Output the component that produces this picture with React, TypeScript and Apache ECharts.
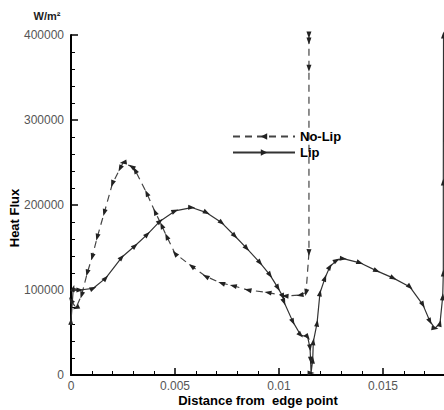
import React, { useEffect, useRef } from "react";
import * as echarts from "echarts";

const noLipX = [0, 0.00024, 0.00051, 0.00078, 0.00102, 0.00126, 0.0016, 0.00199, 0.00236, 0.00251, 0.00292, 0.00308, 0.00364, 0.00404, 0.00436, 0.0046, 0.005, 0.0058, 0.00648, 0.00724, 0.0078, 0.00851, 0.00947, 0.01029, 0.01101, 0.0113, 0.01144, 0.01144, 0.01144, 0.01144];
const noLipY = [88000, 79000, 94000, 120000, 139000, 162000, 191000, 225000, 243000, 250000, 245000, 241000, 214000, 192000, 176000, 163000, 143000, 128000, 116000, 108000, 105000, 100000, 97000, 93000, 94000, 97000, 144000, 361000, 393000, 400000];

const lipX = [0, 0.00011, 0.00043, 0.00107, 0.00167, 0.00244, 0.00308, 0.00367, 0.00428, 0.005, 0.0058, 0.00652, 0.00725, 0.00788, 0.00845, 0.00909, 0.00957, 0.00995, 0.01019, 0.01024, 0.01067, 0.01104, 0.01138, 0.01149, 0.01152, 0.01154, 0.01162, 0.01165, 0.01183, 0.01197, 0.01221, 0.01245, 0.01277, 0.01309, 0.01389, 0.0147, 0.0155, 0.0163, 0.01692, 0.01726, 0.0175, 0.01774, 0.01787, 0.0179, 0.0179, 0.01791];
const lipY = [63000, 102000, 100000, 102000, 114000, 138500, 152000, 165500, 181000, 193000, 197000, 191000, 179000, 163500, 149000, 132000, 117500, 102500, 92000, 86000, 62500, 47000, 44500, 32000, 17500, 2500, 17500, 39000, 61000, 96500, 114000, 127500, 135000, 137000, 132000, 122500, 114000, 103500, 82500, 63000, 55000, 61000, 92000, 120000, 227000, 400000];

const seriesNames = ["No-Lip", "Lip"];
const xTitle = "Distance from  edge point";
const yTitle = "Heat Flux";
const yUnit = "W/m\u00B2";

// direction of arrow markers along the curve (screen-space aspect)
function withRotation(xs: number[], ys: number[], reverse: boolean) {
  const kx = 20800;
  const ky = 85 / 100000;
  return xs.map((x, i) => {
    const a = Math.max(0, i - 1);
    const b = Math.min(xs.length - 1, i + 1);
    let dx = (xs[b] - xs[a]) * kx;
    let dy = (ys[b] - ys[a]) * ky;
    if (reverse) {
      dx = -dx;
      dy = -dy;
    }
    const ang = (Math.atan2(dy, dx) * 180) / Math.PI;
    return { value: [x, ys[i]], symbolRotate: ang - 90 };
  });
}

export default function App() {
  const ref = useRef<HTMLDivElement>(null);
  useEffect(() => {
    document.body.style.margin = "0";
    const chart = echarts.init(ref.current!, null, { renderer: "svg" });
    const font = "Arial, 'Liberation Sans', Helvetica, sans-serif";
    chart.setOption({
      animation: false,
      backgroundColor: "#ffffff",
      textStyle: { fontFamily: font },
      grid: { left: 71, top: 35, bottom: 35, right: 0 },
      legend: {
        orient: "vertical",
        left: 232,
        top: 130,
        padding: 0,
        itemGap: 3,
        itemWidth: 62,
        itemHeight: 8,
        textStyle: { fontSize: 13, fontWeight: "bold", color: "#000", fontFamily: font },
        data: [
          { name: seriesNames[0], symbolRotate: 90 },
          { name: seriesNames[1], symbolRotate: -90 },
        ],
      },
      xAxis: {
        type: "value",
        min: 0,
        max: 0.02,
        interval: 0.005,
        axisLine: { show: true, onZero: false, lineStyle: { color: "#000", width: 2 } },
        axisTick: { show: true, inside: true, length: 7, lineStyle: { color: "#000", width: 1.5 } },
        minorTick: { show: true, splitNumber: 5, length: 4, lineStyle: { color: "#000", width: 1 } },
        splitLine: { show: false },
        axisLabel: { color: "#555", fontSize: 12, margin: 5, fontFamily: font, showMaxLabel: false, formatter: (v: number) => String(v) },
      },
      yAxis: {
        type: "value",
        min: 0,
        max: 400000,
        interval: 100000,
        axisLine: { show: true, onZero: false, lineStyle: { color: "#000", width: 2 } },
        axisTick: { show: true, inside: true, length: 7, lineStyle: { color: "#000", width: 1.5 } },
        minorTick: { show: true, splitNumber: 5, length: 4, lineStyle: { color: "#000", width: 1 } },
        splitLine: { show: false },
        axisLabel: { color: "#555", fontSize: 12, margin: 7, fontFamily: font, formatter: (v: number) => String(v) },
      },
      graphic: [
        {
          type: "text",
          x: 47,
          y: 16,
          style: { text: yUnit, font: "bold 11px " + font, fill: "#222", align: "center", verticalAlign: "middle", textAlign: "center", textVerticalAlign: "middle" },
        },
        {
          type: "text",
          x: 14,
          y: 218,
          rotation: Math.PI / 2,
          style: { text: yTitle, font: "bold 13px " + font, fill: "#000", align: "center", verticalAlign: "middle", textAlign: "center", textVerticalAlign: "middle" },
        },
        {
          type: "text",
          x: 258,
          y: 400,
          style: { text: xTitle, font: "bold 13px " + font, fill: "#000", align: "center", verticalAlign: "middle", textAlign: "center", textVerticalAlign: "middle" },
        },
      ],
      series: [
        {
          name: seriesNames[0],
          type: "line",
          data: withRotation(noLipX, noLipY, true),
          symbol: "triangle",
          symbolSize: [5, 7],
          showAllSymbol: true,
          itemStyle: { color: "#222" },
          lineStyle: { color: "#444", width: 1.2, type: [7, 5] },
        },
        {
          name: seriesNames[1],
          type: "line",
          data: withRotation(lipX, lipY, false),
          symbol: "triangle",
          symbolSize: [5, 7],
          showAllSymbol: true,
          itemStyle: { color: "#222" },
          lineStyle: { color: "#333", width: 1.2, type: "solid" },
        },
      ],
    });
    return () => chart.dispose();
  }, []);
  return (
    <div style={{ width: 444, height: 410, overflow: "hidden", position: "relative" }}>
      <div ref={ref} style={{ width: 487, height: 410 }} />
    </div>
  );
}
